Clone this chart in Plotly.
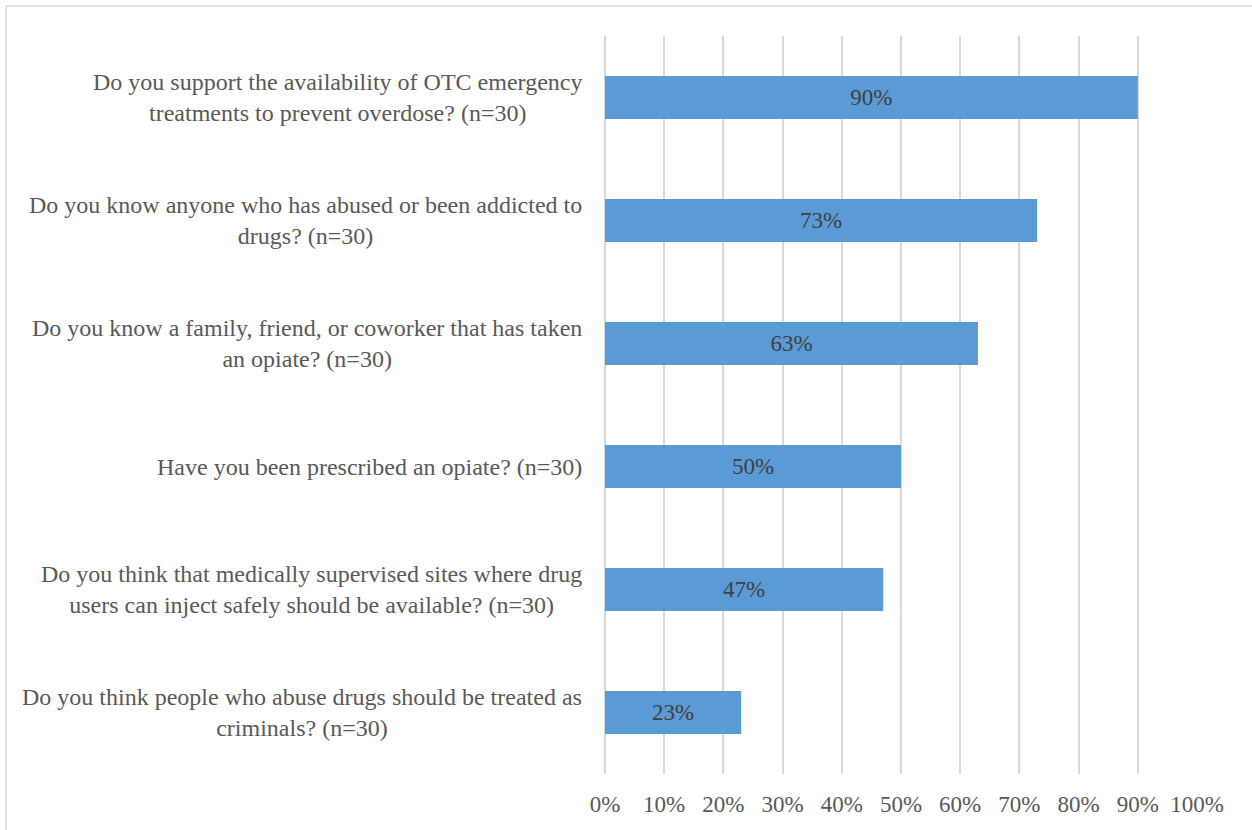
import plotly.graph_objects as go

# Survey questions (top to bottom) and share of "yes" responses
questions = [
    "Do you support the availability of OTC emergency<br>treatments to prevent overdose? (n=30)",
    "Do you know anyone who has abused or been addicted to<br>drugs? (n=30)",
    "Do you know a family, friend, or coworker that has taken<br>an opiate? (n=30)",
    "Have you been prescribed an opiate? (n=30)",
    "Do you think that medically supervised sites where drug<br>users can inject safely should be available? (n=30)",
    "Do you think people who abuse drugs should be treated as<br>criminals? (n=30)",
]
shares = [0.90, 0.73, 0.63, 0.50, 0.47, 0.23]
tick_vals = [i / 10 for i in range(11)]
tick_text = [f"{i * 10}%" for i in range(11)]

FONT = "Liberation Serif, Times New Roman, serif"
TEXT_GRAY = "#595959"
GRID = "#d9d9d9"

fig = go.Figure(
    go.Bar(
        x=shares,
        y=questions,
        orientation="h",
        marker=dict(color="#5b9bd5", line=dict(width=0)),
        width=0.35,
        text=[f"{round(v * 100)}%" for v in shares],
        textposition="inside",
        insidetextanchor="middle",
        textfont=dict(family=FONT, size=23, color="#404040"),
        hoverinfo="skip",
    )
)

# Category labels: right-aligned block, lines centred within it
for q in questions:
    fig.add_annotation(
        x=0, xref="paper", y=q, yref="y",
        text=q, showarrow=False,
        xanchor="right", yanchor="middle", align="center",
        xshift=-21,
        font=dict(family=FONT, size=24, color=TEXT_GRAY),
    )

# Outer chart frame (runs past the right and bottom edges of the page)
fig.add_shape(
    type="rect", xref="paper", yref="paper",
    x0=-1.0118, x1=1.3, y0=-0.3, y1=1.0407,
    line=dict(color=GRID, width=1.5), fillcolor="rgba(0,0,0,0)", layer="below",
)

fig.update_layout(
    width=1252, height=830,
    margin=dict(l=605, r=55, t=36, b=56),
    paper_bgcolor="white", plot_bgcolor="white",
    showlegend=False,
    font=dict(family=FONT, size=23, color=TEXT_GRAY),
    xaxis=dict(
        range=[0, 1.0], tickvals=tick_vals, ticktext=tick_text,
        showgrid=True, gridcolor=GRID, gridwidth=1.5,
        zeroline=True, zerolinecolor=GRID, zerolinewidth=1.5,
        showline=False, ticks="", ticklabelstandoff=14,
        tickfont=dict(family=FONT, size=23, color=TEXT_GRAY),
        fixedrange=True,
    ),
    yaxis=dict(
        categoryorder="array", categoryarray=questions[::-1],
        showticklabels=False, showgrid=False, zeroline=False, showline=False,
        ticks="", fixedrange=True,
    ),
)

fig.write_html("out.html")
